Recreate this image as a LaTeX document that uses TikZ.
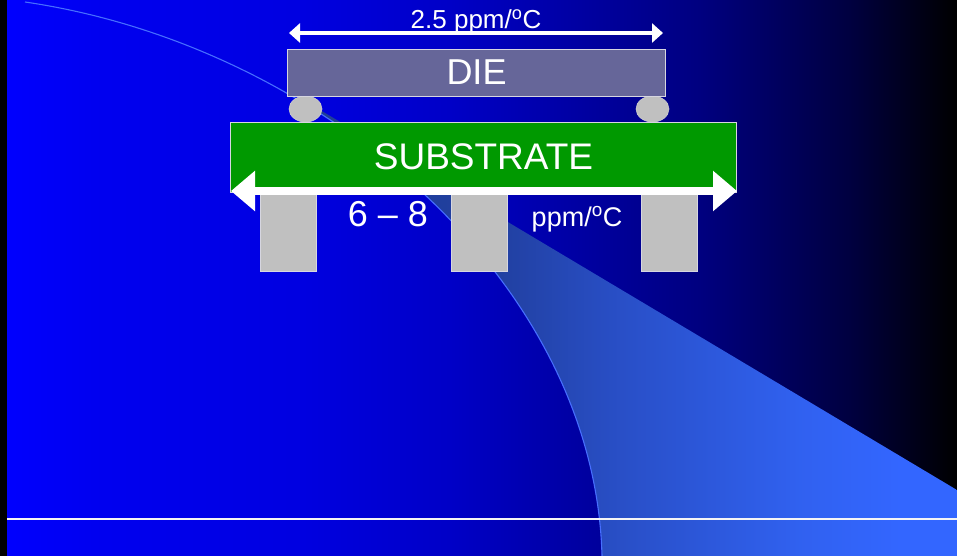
\documentclass[tikz,border=0pt]{standalone}
\usepackage{fontspec}
\setmainfont{Liberation Sans}
\usepackage{xcolor}
\usetikzlibrary{arrows.meta,positioning,shapes.geometric}

\definecolor{dieslate}{RGB}{102,102,153}
\definecolor{subgreen}{RGB}{0,153,0}
\definecolor{bumpgray}{RGB}{192,192,192}
\definecolor{rimgray}{RGB}{214,214,224}
\definecolor{arcblue}{RGB}{70,110,255}

% slide background and light beam, left to right
\pgfdeclarehorizontalshading{slidebg}{100bp}{rgb(0bp)=(0,0,1); rgb(25bp)=(0,0,1);
  rgb(30bp)=(0,0,0.94); rgb(40.7bp)=(0,0,0.88); rgb(48.5bp)=(0,0,0.78);
  rgb(61.6bp)=(0,0,0.5); rgb(69.4bp)=(0,0,0.25); rgb(75bp)=(0,0,0); rgb(100bp)=(0,0,0)}
\pgfdeclarehorizontalshading{beamshade}{100bp}{rgb(0bp)=(0.12,0.24,0.58);
  rgb(25bp)=(0.12,0.24,0.58); rgb(40bp)=(0.13,0.25,0.63); rgb(49.4bp)=(0.16,0.31,0.78);
  rgb(63bp)=(0.19,0.38,0.94); rgb(70.7bp)=(0.2,0.4,1); rgb(100bp)=(0.2,0.4,1)}

\begin{document}
\begin{tikzpicture}[x=1pt, y=-1pt,
  part/.style={
    draw=rimgray, line width=0.8pt, inner sep=0pt, outer sep=0pt,
    text=white
  },
  pillar/.style={part, fill=bumpgray,
    minimum width=56pt, minimum height=80pt},
  bump/.style={ellipse, fill=bumpgray, draw=bumpgray!80!white,
    line width=0.6pt, inner sep=0pt,
    minimum width=33pt, minimum height=26pt},
  cte/.style={text=white, inner sep=0pt, anchor=base},
  dimtop/.style={{Triangle[length=11pt,width=19pt]}-{Triangle[length=11pt,width=19pt]},
    white, line width=3.5pt},
  dimbot/.style={{Triangle[length=24pt,width=39pt]}-{Triangle[length=24pt,width=39pt]},
    white, line width=8pt}]

\useasboundingbox (0,0) rectangle (957,556);

% Background — blue fading to black, beam, arc and rule
\shade[shading=slidebg] (0,0) rectangle (957,556);
\begin{scope}
  \clip (25,2) .. controls (320,45) and (595,280) .. (602,556)
    -- (957,556) -- (957,0) -- (25,0) -- cycle;
  \shade[shading=beamshade] (300,98) -- (957,490) -- (957,556) -- (300,556) -- cycle;
\end{scope}
\draw[arcblue, line width=1.1pt] (25,2) .. controls (320,45) and (595,280) .. (602,556);
\draw[white!92!gray, line width=2pt] (6,519) -- (957,519);
\fill[black] (0,0) rectangle (6.5,556);

% Pillars under the substrate
\node[pillar] (p1) at (288,231) {};
\node[pillar] (p2) at (479.5,231) {};
\node[pillar] (p3) at (669,231) {};

% Solder bumps between die and substrate
\node[bump] (b1) at (305.5,109) {};
\node[bump] (b2) at (652.5,109) {};

% Die and substrate
\node[part, fill=dieslate, minimum width=378pt, minimum height=47pt,
  font=\fontsize{36}{36}\selectfont] (die) at (476.5,72.5) {DIE};
\node[part, fill=subgreen, minimum width=506pt, minimum height=70pt,
  font=\fontsize{37}{37}\selectfont] (sub) at (483.5,157) {SUBSTRATE};

% Expansion arrows — die on top, substrate below
\coordinate (dl) at (289,33);
\coordinate (dr) at (663,33);
\draw[dimtop] (dl) -- (dr);
\coordinate (sl) at (231,191);
\coordinate (sr) at (737,191);
\draw[dimbot] (sl) -- (sr);

% CTE labels
\node[cte, font=\fontsize{26}{26}\selectfont] (ctedie) at (476,29)
  {2.5 ppm/\textsuperscript{o}C};
\node[cte, font=\fontsize{36}{36}\selectfont] (ctesub) at (388,226) {6 -- 8};
\node[cte, font=\fontsize{27}{27}\selectfont] (cteunit) at (577,226)
  {ppm/\textsuperscript{o}C};

\end{tikzpicture}
\end{document}
